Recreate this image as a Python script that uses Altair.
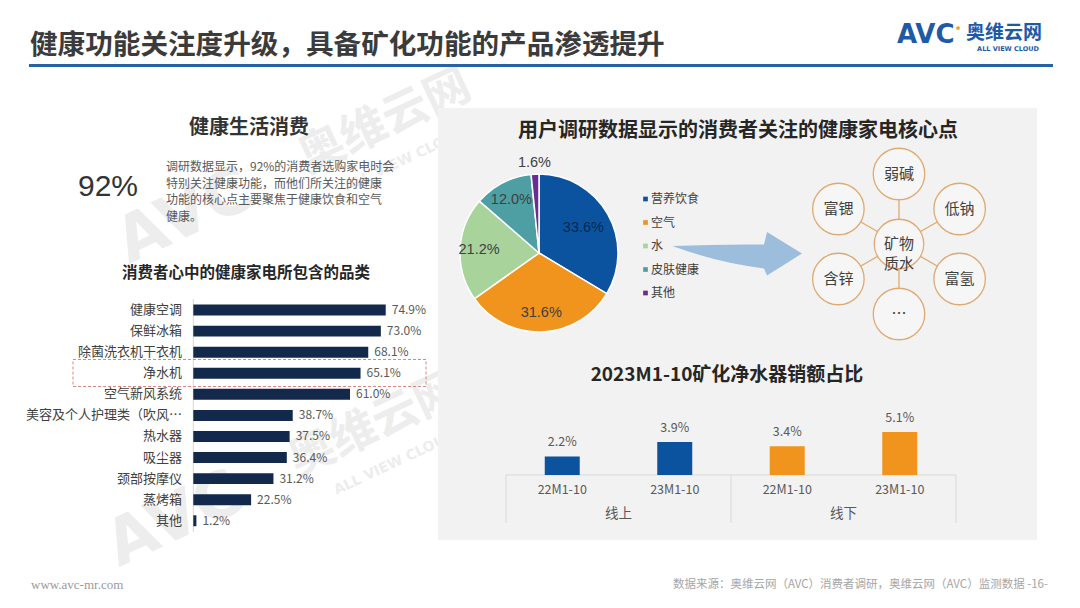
import altair as alt
import pandas as pd

CJK = "Noto Sans CJK SC"
LAT = "Liberation Sans, Noto Sans CJK SC"

# ---------------- data ----------------
title_text = "健康功能关注度升级，具备矿化功能的产品渗透提升"
left_title = "健康生活消费"
big_number = "92%"
para_lines = [
    "调研数据显示，92%的消费者选购家电时会",
    "特别关注健康功能，而他们所关注的健康",
    "功能的核心点主要聚焦于健康饮食和空气",
    "健康。",
]
bar_title = "消费者心中的健康家电所包含的品类"
cat_names = ["健康空调", "保鲜冰箱", "除菌洗衣机干衣机", "净水机", "空气新风系统",
             "美容及个人护理类（吹风…", "热水器", "吸尘器", "颈部按摩仪", "蒸烤箱", "其他"]
cat_values = [74.9, 73.0, 68.1, 65.1, 61.0, 38.7, 37.5, 36.4, 31.2, 22.5, 1.2]

pie_title = "用户调研数据显示的消费者关注的健康家电核心点"
pie_keys = ["营养饮食", "空气", "水", "皮肤健康", "其他"]
pie_values = [33.6, 31.6, 21.2, 12.0, 1.6]
pie_colors = ["#0b539e", "#f0941d", "#a8d49c", "#4e9fa3", "#6a2c91"]

center_label = "矿物\n质水"
node_names = ["弱碱", "低钠", "富氢", "…", "含锌", "富锶"]
node_angles = [90, 30, -30, -90, -150, 150]

sales_title = "2023M1-10矿化净水器销额占比"
channel_names = ["线上", "线下"]
channel_colors = ["#0b539e", "#f0941d"]
sales_channel = ["线上", "线上", "线下", "线下"]
sales_period = ["22M1-10", "23M1-10", "22M1-10", "23M1-10"]
sales_values = [2.2, 3.9, 3.4, 5.1]

footer_left = "www.avc-mr.com"
footer_right = "数据来源：奥维云网（AVC）消费者调研，奥维云网（AVC）监测数据  -16-"
wm_brand = ["AVC", "奥维云网", "ALL VIEW CLOUD"]


# ---------------- helpers ----------------
def P(v):
    return v - 8


one = pd.DataFrame({"d": [0]})


def txt(s, x, y, size, color="#404040", weight="normal", align="left",
        font=CJK, baseline="middle", **kw):
    return alt.Chart(one).mark_text(
        text=s, fontSize=size, color=color, fontWeight=weight, align=align,
        baseline=baseline, font=font, **kw
    ).encode(x=alt.value(P(x)), y=alt.value(P(y)))


def rule(x1, y1, x2, y2, color, width=1, **kw):
    return alt.Chart(one).mark_rule(color=color, strokeWidth=width, **kw).encode(
        x=alt.value(P(x1)), y=alt.value(P(y1)), x2=alt.value(P(x2)), y2=alt.value(P(y2)))


def rect(x1, y1, x2, y2, **kw):
    return alt.Chart(one).mark_rect(**kw).encode(
        x=alt.value(P(x1)), x2=alt.value(P(x2)), y=alt.value(P(y1)), y2=alt.value(P(y2)))


L = []

# faint watermarks
for (wx, wy) in [(385, 122), (375, 425)]:
    L.append(txt(wm_brand[0], wx - 200, wy + 95, 64, color="#ededed", weight="bold",
                 align="center", font="DejaVu Sans", angle=335))
    L.append(txt(wm_brand[1], wx, wy, 46, color="#ededed", weight="bold",
                 align="center", angle=335))
    L.append(txt(wm_brand[2], wx + 20, wy + 38, 14, color="#ededed", weight="bold",
                 align="center", font="DejaVu Sans", angle=335))

# right grey panel
L.append(rect(438, 108, 1037, 540, color="#f2f2f2"))

# ---------------- header ----------------
L.append(txt(title_text, 30, 46, 27.6, color="#3b3b3b", weight="bold"))
L.append(rule(29, 65.5, 1053, 65.5, "#2563a6", 3))
L.append(txt("AVC", 897, 35, 26, color="#1f5aa6", weight="bold", font="DejaVu Sans"))
L.append(alt.Chart(one).mark_circle(size=14, color="#f29b1d", opacity=1).encode(
    x=alt.value(P(958)), y=alt.value(P(28))))
L.append(txt("奥维云网", 966, 33, 19, color="#1f5aa6", weight="bold"))
L.append(txt("ALL VIEW CLOUD", 1008, 49, 6.5, color="#1f5aa6", weight="bold",
             align="center", font="DejaVu Sans"))

# ---------------- left text ----------------
L.append(txt(left_title, 249, 128, 20, color="#333333", weight="bold", align="center"))
L.append(txt(big_number, 108, 187, 30, color="#333333", align="center",
             font="Liberation Sans Narrow, Liberation Sans"))
for i, line in enumerate(para_lines):
    L.append(txt(line, 166, 167 + i * 16.5, 12, color="#595959"))
L.append(txt(bar_title, 246, 273, 15.5, color="#262626", weight="bold", align="center"))

# ---------------- left bar chart ----------------
bar_df = pd.DataFrame({"cat": cat_names, "val": cat_values})
bar_df["lab"] = bar_df["val"].map(lambda v: f"{v:.1f}%")
yb = alt.Y("cat:N", sort=cat_names, axis=None,
           scale=alt.Scale(domain=cat_names, range=[P(299.5), P(531.3)],
                           paddingInner=0.48, paddingOuter=0.24))
xb = alt.X("val:Q", axis=None,
           scale=alt.Scale(domain=[0, 100], range=[P(193.3), P(193.3 + 256.9)]))

L.append(rule(193.3, 299, 193.3, 532, "#d6d6d6", 1))
L.append(alt.Chart(bar_df).mark_bar(color="#12294b").encode(x=xb, y=yb))
L.append(alt.Chart(bar_df).mark_text(align="right", baseline="middle", fontSize=13,
                                     color="#404040", font=CJK).encode(
    x=alt.value(P(182)), y=yb, text="cat:N"))
L.append(alt.Chart(bar_df).mark_text(align="left", baseline="middle", fontSize=12,
                                     dx=6, color="#595959", font=CJK).encode(
    x=xb, y=yb, text="lab:N"))
L.append(rect(73, 359.5, 426, 386.5, fill="white", fillOpacity=0, stroke="#d98880",
              strokeWidth=1, strokeDash=[3, 2]))

# ---------------- pie ----------------
L.append(txt(pie_title, 738, 131, 20, color="#262626", weight="bold", align="center"))
pie_df = pd.DataFrame({"k": pie_keys, "v": pie_values, "i": list(range(len(pie_keys)))})
pie_df["lab"] = pie_df["v"].map(lambda v: f"{v:.1f}%")
theta = alt.Theta("v:Q", stack=True, scale=alt.Scale(domain=[0, 100]))
cx, cy = P(539), P(253)
L.append(alt.Chart(pie_df).mark_arc(radius=79, stroke="white", strokeWidth=1.5).encode(
    theta=theta,
    color=alt.Color("k:N", scale=alt.Scale(domain=pie_keys, range=pie_colors), legend=None),
    order=alt.Order("i:Q"), x=alt.value(cx), y=alt.value(cy)))


def pie_text(expr, radius, color, **kw):
    return alt.Chart(pie_df).transform_calculate(t=expr).mark_text(
        radius=radius, fontSize=14.5, fill=color, font=LAT, **kw).encode(
        theta=theta, text="t:N", order=alt.Order("i:Q"), x=alt.value(cx), y=alt.value(cy))


L.append(pie_text("(datum.k == '其他' || datum.k == '营养饮食') ? '' : datum.lab", 60, "#404040"))
L.append(pie_text("datum.k == '营养饮食' ? datum.lab : ''", 51, "#000000", fillOpacity=0.55))
L.append(pie_text("datum.k == '其他' ? datum.lab : ''", 90, "#404040"))

# legend
yl = alt.Y("k:N", axis=None, sort=pie_keys,
           scale=alt.Scale(type="point", domain=pie_keys, range=[P(199), P(293)], padding=0))
L.append(alt.Chart(pie_df).mark_square(size=22, opacity=1).encode(
    x=alt.value(P(645.5)), y=yl,
    color=alt.Color("k:N", scale=alt.Scale(domain=pie_keys, range=pie_colors), legend=None)))
L.append(alt.Chart(pie_df).mark_text(align="left", baseline="middle", fontSize=12,
                                     color="#404040", font=CJK).encode(
    x=alt.value(P(651)), y=yl, text="k:N"))

# arrow
arrow_path = ("M -1 -0.115 Q -0.269 -0.146 0.408 -0.138 L 0.454 -0.331 L 0.992 0 "
              "L 0.454 0.338 L 0.408 0.231 Q -0.346 0.131 -1 -0.115 Z")
L.append(alt.Chart(one).mark_point(shape=arrow_path, size=130 ** 2, filled=True,
                                   color="#9dbddd", opacity=1, strokeWidth=0).encode(
    x=alt.value(P(737.5)), y=alt.value(P(253.5))))

# ---------------- bubble diagram ----------------
node_df = pd.DataFrame({"n": node_names, "a": node_angles})
xn = alt.Scale(domain=[-1, 1], range=[P(899 - 70), P(899 + 70)])
yn = alt.Scale(domain=[-1, 1], range=[P(244 + 70), P(244 - 70)])
ring = "#dfaa72"
node_base = alt.Chart(node_df).transform_calculate(
    nx="cos(datum.a * PI / 180)", ny="sin(datum.a * PI / 180)", z="0")
L.append(node_base.mark_rule(color=ring, strokeWidth=1.3).encode(
    x=alt.X("z:Q", scale=xn, axis=None), x2="nx:Q",
    y=alt.Y("z:Q", scale=yn, axis=None), y2="ny:Q"))
L.append(node_base.mark_circle(size=2650, fill="#f6f6f6", stroke=ring, strokeWidth=1.3,
                               opacity=1).encode(
    x=alt.X("nx:Q", scale=xn, axis=None), y=alt.Y("ny:Q", scale=yn, axis=None)))
L.append(node_base.mark_text(fontSize=15, color="#404040", font=CJK).encode(
    x=alt.X("nx:Q", scale=xn, axis=None), y=alt.Y("ny:Q", scale=yn, axis=None), text="n:N"))
center_df = pd.DataFrame({"n": [center_label]})
center_base = alt.Chart(center_df).transform_calculate(nx="0", ny="0")
L.append(center_base.mark_circle(size=2450, fill="#f6f6f6", stroke=ring, strokeWidth=1.3,
                                 opacity=1).encode(
    x=alt.X("nx:Q", scale=xn, axis=None), y=alt.Y("ny:Q", scale=yn, axis=None)))
L.append(center_base.mark_text(fontSize=15, color="#404040", font=CJK, lineBreak="\n",
                               lineHeight=20).encode(
    x=alt.X("nx:Q", scale=xn, axis=None), y=alt.Y("ny:Q", scale=yn, axis=None), text="n:N"))

# ---------------- bottom bar chart ----------------
L.append(txt(sales_title, 727, 375, 19, color="#262626", weight="bold", align="center"))
s_df = pd.DataFrame({"ch": sales_channel, "p": sales_period, "v": sales_values})
s_df["key"] = s_df["ch"] + "|" + s_df["p"]
s_df["lab"] = s_df["v"].map(lambda v: f"{v:.1f}%")
keys = list(s_df["key"])
xs = alt.X("key:N", sort=keys, axis=None,
           scale=alt.Scale(domain=keys, range=[P(506), P(956)],
                           paddingInner=0.689, paddingOuter=0.3445))
ys = alt.Y("v:Q", axis=None,
           scale=alt.Scale(domain=[0, 6], range=[P(475), P(475 - 6 * 8.45)]))
grid = "#d9d9d9"
L.append(rule(506, 475, 956, 475, grid))
for gx in (506, 731, 956):
    L.append(rule(gx, 475, gx, 523, grid))
L.append(alt.Chart(s_df).mark_bar().encode(
    x=xs, y=ys,
    color=alt.Color("ch:N", scale=alt.Scale(domain=channel_names, range=channel_colors),
                    legend=None)))
L.append(alt.Chart(s_df).mark_text(baseline="bottom", dy=-7, fontSize=12.5,
                                   color="#595959", font=CJK).encode(
    x=xs, y=ys, text="lab:N"))
L.append(alt.Chart(s_df).mark_text(baseline="middle", fontSize=12.5,
                                   color="#595959", font=CJK).encode(
    x=xs, y=alt.value(P(490)), text="p:N"))
g_df = pd.DataFrame({"ch": channel_names})
L.append(alt.Chart(g_df).mark_text(baseline="middle", fontSize=13.5,
                                   color="#595959", font=CJK).encode(
    x=alt.X("ch:N", axis=None,
            scale=alt.Scale(domain=channel_names, range=[P(506), P(956)],
                            paddingInner=0, paddingOuter=0)),
    y=alt.value(P(514)), text="ch:N"))

# ---------------- footer ----------------
L.append(txt(footer_left, 31, 585, 13, color="#9a9a9a", font="Liberation Serif"))
L.append(txt(footer_right, 1048, 585, 11.5, color="#a6a6a6", align="right"))

chart = alt.layer(*L).resolve_scale(
    x="independent", y="independent", color="independent", theta="independent"
).properties(
    width=1064, height=592, padding=0, background="white",
    autosize=alt.AutoSizeParams(type="none"),
).configure_view(stroke=None)

chart.save("out.html", embed_options={"renderer": "svg", "actions": False})
